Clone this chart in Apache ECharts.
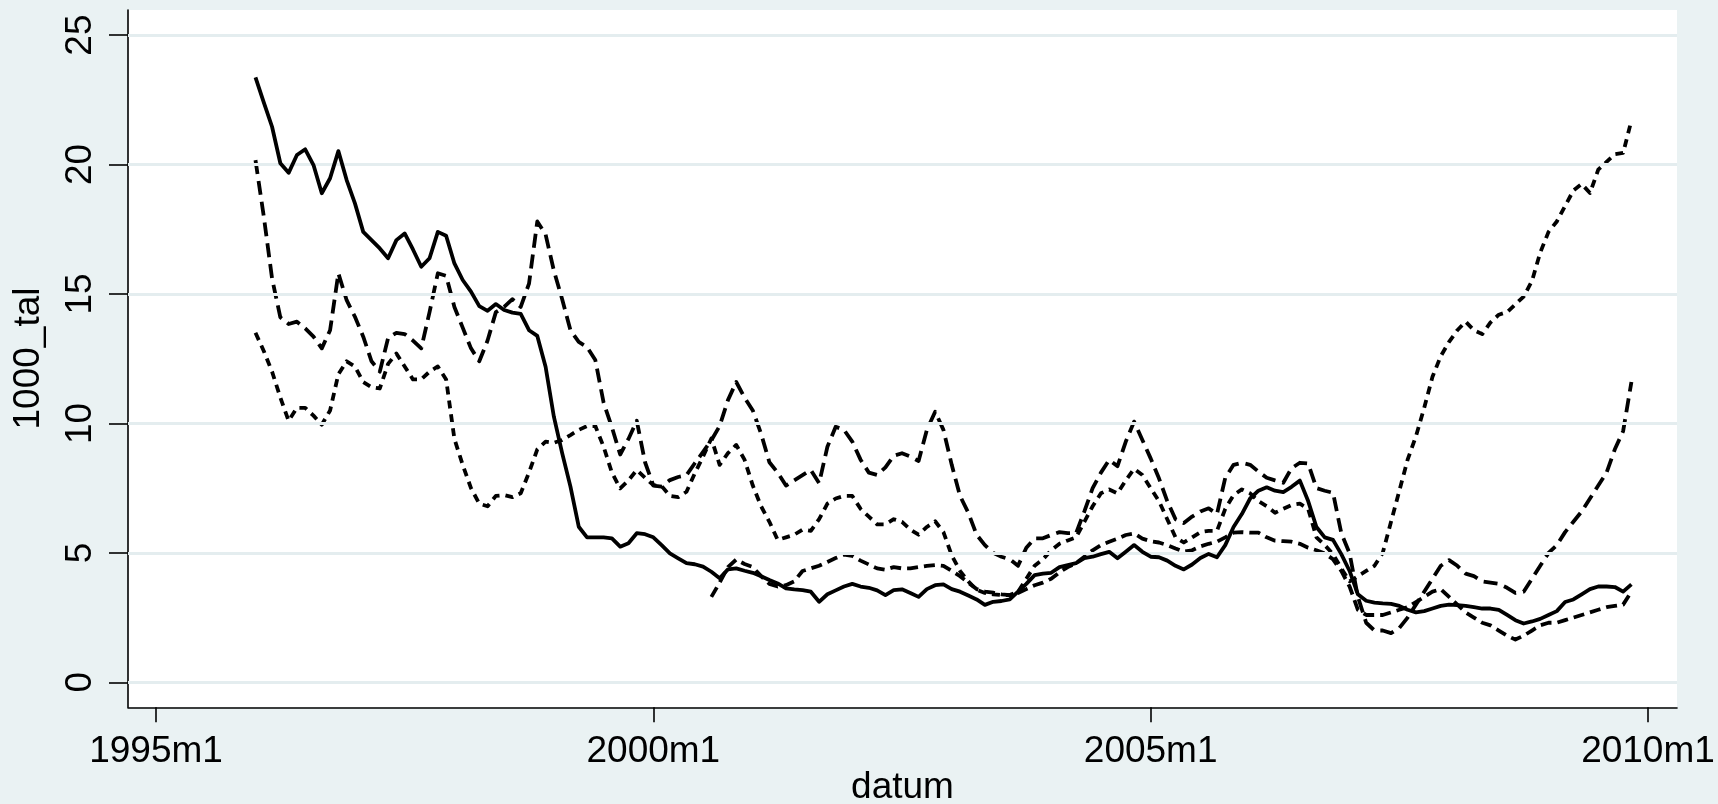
<!DOCTYPE html>
<html><head><meta charset="utf-8">
<script src="https://cdn.jsdelivr.net/npm/echarts@6/dist/echarts.min.js"></script>
<style>html,body{margin:0;padding:0;background:#eaf2f3}#c{width:1718px;height:804px}</style>
</head><body><div id="c"></div>
<script>
// x values are months since 1995m1
const startABC = 12;   // 1996m1
const startD = 67;     // 2000m8
const seriesA = [23.37,22.4,21.46,20.05,19.68,20.37,20.59,19.98,18.89,19.47,20.52,19.4,
18.5,17.4,17.08,16.76,16.38,17.08,17.34,16.72,16.05,16.38,17.4,17.25,
16.18,15.54,15.09,14.53,14.35,14.61,14.38,14.28,14.23,13.6,13.38,12.19,
10.26,8.85,7.56,6.01,5.6,5.6,5.6,5.56,5.24,5.37,5.76,5.72,
5.6,5.3,4.98,4.79,4.6,4.56,4.47,4.27,4.02,4.36,4.4,4.31,
4.23,4.1,3.95,3.82,3.63,3.59,3.56,3.5,3.11,3.4,3.55,3.7,
3.8,3.7,3.65,3.55,3.37,3.56,3.59,3.45,3.3,3.6,3.75,3.78,
3.6,3.5,3.35,3.2,2.99,3.11,3.14,3.2,3.5,3.8,4.14,4.2,
4.23,4.45,4.53,4.6,4.8,4.85,4.95,5.04,4.79,5.04,5.3,5.04,
4.85,4.83,4.7,4.5,4.36,4.55,4.8,4.96,4.83,5.3,6.0,6.5,
7.1,7.4,7.53,7.4,7.35,7.55,7.79,7.0,6.0,5.6,5.5,4.95,
4.3,3.4,3.15,3.08,3.05,3.03,2.95,2.8,2.7,2.75,2.85,2.95,
3.0,2.98,2.95,2.9,2.85,2.85,2.8,2.6,2.4,2.27,2.35,2.45,
2.6,2.75,3.1,3.2,3.4,3.6,3.7,3.7,3.68,3.5,3.78];
const seriesB = [20.17,18.0,15.6,14.1,13.84,13.93,13.67,13.35,12.9,13.6,15.8,14.76,
14.12,13.35,12.4,12.0,13.3,13.5,13.45,13.2,12.9,14.3,15.8,15.7,
14.5,13.7,12.9,12.4,13.2,14.3,14.5,14.8,14.5,15.4,17.8,17.3,
15.9,14.8,13.6,13.15,12.95,12.45,10.8,9.85,8.8,9.4,10.1,8.5,
7.6,7.56,7.81,7.93,8.0,8.46,8.9,9.35,9.9,10.9,11.6,11.0,
10.5,9.6,8.5,8.1,7.6,7.8,8.0,8.2,7.69,9.1,9.87,9.75,
9.3,8.6,8.1,8.01,8.3,8.75,8.85,8.72,8.55,9.75,10.45,9.75,
8.4,7.2,6.55,5.7,5.3,5.0,4.85,4.75,4.5,5.2,5.56,5.56,
5.69,5.8,5.76,5.76,6.6,7.5,8.1,8.59,8.35,9.3,10.07,9.36,
8.65,7.88,7.0,6.3,6.15,6.4,6.6,6.72,6.5,7.9,8.4,8.48,
8.4,8.14,7.9,7.8,7.71,8.27,8.48,8.45,7.5,7.4,7.32,5.76,
4.98,3.3,2.3,2.0,2.0,1.9,2.1,2.5,3.0,3.5,4.0,4.5,
4.72,4.5,4.2,4.1,3.9,3.85,3.8,3.65,3.45,3.5,4.0,4.5,
5.0,5.3,5.8,6.2,6.6,7.1,7.6,8.1,9.0,9.7,11.6];
const seriesC = [13.5,12.8,12.0,11.0,10.1,10.6,10.6,10.3,9.95,10.5,11.9,12.4,
12.2,11.6,11.4,11.35,12.3,12.7,12.2,11.7,11.7,12.0,12.2,11.7,
9.4,8.4,7.5,6.9,6.8,7.2,7.23,7.15,7.3,8.1,9.0,9.3,
9.25,9.36,9.55,9.75,9.9,9.9,9.1,8.1,7.49,7.8,8.2,7.9,
7.62,7.58,7.2,7.15,7.36,8.07,8.72,9.42,8.4,8.85,9.17,8.6,
7.6,6.8,6.2,5.5,5.6,5.7,5.9,5.85,6.3,6.9,7.1,7.2,
7.2,6.7,6.4,6.1,6.1,6.3,6.2,5.9,5.7,6.0,6.22,5.8,
4.9,4.3,3.9,3.57,3.45,3.4,3.37,3.37,3.5,4.0,4.5,4.75,
5.1,5.35,5.48,5.6,6.2,6.8,7.3,7.45,7.3,7.8,8.25,8.01,
7.5,7.0,6.3,5.6,5.4,5.6,5.8,5.85,5.85,6.7,7.23,7.45,
7.3,7.0,6.8,6.55,6.7,6.85,6.9,6.7,5.6,5.3,4.95,4.4,
3.9,4.1,4.3,4.5,5.0,6.2,7.4,8.6,9.5,10.6,11.8,12.6,
13.15,13.6,13.93,13.6,13.45,13.9,14.2,14.3,14.6,14.9,15.5,16.6,
17.4,17.8,18.4,19.0,19.25,18.9,19.8,20.1,20.4,20.45,21.7];
const seriesD = [3.3,3.85,4.45,4.74,4.57,4.45,4.1,3.8,3.7,3.75,3.9,
4.3,4.4,4.5,4.65,4.8,4.93,4.88,4.7,4.55,4.4,4.35,4.45,
4.4,4.4,4.45,4.5,4.53,4.5,4.3,4.1,3.85,3.6,3.5,3.46,
3.4,3.37,3.45,3.6,3.75,3.85,4.0,4.25,4.45,4.6,4.85,5.1,
5.3,5.43,5.55,5.69,5.75,5.55,5.45,5.4,5.3,5.17,5.05,5.1,
5.25,5.35,5.43,5.6,5.78,5.8,5.78,5.78,5.6,5.47,5.45,5.43,
5.35,5.2,5.1,4.98,4.75,4.3,3.7,2.8,2.6,2.6,2.6,2.7,
2.8,2.9,3.1,3.3,3.5,3.6,3.3,3.0,2.7,2.5,2.3,2.2,
2.0,1.8,1.65,1.8,2.0,2.2,2.3,2.3,2.4,2.5,2.6,2.7,
2.8,2.9,2.95,3.0,3.5];
const xTickValues = [0, 60, 120, 180];
const xTickLabels = ['1995m1', '2000m1', '2005m1', '2010m1'];
const yTickValues = [0, 5, 10, 15, 20, 25];
const xTitle = 'datum';
const yTitle = '1000_tal';

function pairs(start, vals) { return vals.map((v, i) => [start + i, v]); }

const FONT = 'Liberation Sans, Arial, sans-serif';
const chart = echarts.init(document.getElementById('c'), null, {renderer: 'canvas'});
function lineSeries(data, dash, z) {
  return {
    type: 'line', data: data, showSymbol: false, symbol: 'none', z: z,
    silent: true, animation: false,
    lineStyle: {color: '#000', width: 3.8, type: dash, join: 'round', cap: 'butt'}
  };
}
chart.setOption({
  backgroundColor: '#eaf2f3',
  animation: false,
  grid: {left: 128, right: 41, top: 10, bottom: 96.7, show: true,
         backgroundColor: '#ffffff', borderWidth: 0},
  xAxis: {
    type: 'value', min: -3.38, max: 183.5,
    axisLine: {show: true, onZero: false, lineStyle: {color: '#000', width: 1.6}},
    axisTick: {show: true, customValues: xTickValues, length: 15, lineStyle: {color: '#000', width: 1.6}},
    axisLabel: {customValues: xTickValues, margin: 26, color: '#000', fontSize: 37, fontFamily: FONT,
      formatter: v => xTickLabels[xTickValues.indexOf(v)]},
    splitLine: {show: false}
  },
  yAxis: {
    type: 'value', min: -0.966, max: 25.97,
    axisLine: {show: true, onZero: false, lineStyle: {color: '#000', width: 1.6}},
    axisTick: {show: true, customValues: yTickValues, length: 19, lineStyle: {color: '#000', width: 1.6}},
    axisLabel: {customValues: yTickValues, rotate: 90, margin: 29, color: '#000', fontSize: 37, fontFamily: FONT},
    splitLine: {show: false}
  },
  graphic: [
    {type: 'text', x: 902.5, y: 788.2, silent: true,
     style: {text: xTitle, fill: '#000', fontSize: 37, fontFamily: FONT, align: 'center', verticalAlign: 'middle'}},
    {type: 'text', x: 28.5, y: 358.5, rotation: Math.PI / 2, silent: true,
     style: {text: yTitle, fill: '#000', fontSize: 37, fontFamily: FONT, align: 'center', verticalAlign: 'middle'}}
  ],
  series: [
    {type: 'line', data: [], z: 1, silent: true,
     markLine: {silent: true, symbol: 'none', label: {show: false}, animation: false,
       lineStyle: {color: '#e4edef', width: 3, type: 'solid'},
       data: yTickValues.map(v => ({yAxis: v}))}},
    lineSeries(pairs(startABC, seriesA), 'solid', 5),
    lineSeries(pairs(startABC, seriesB), [14, 7], 4),
    lineSeries(pairs(startABC, seriesC), [8, 6], 3),
    lineSeries(pairs(startD, seriesD), [11, 6], 2)
  ]
});
</script></body></html>
